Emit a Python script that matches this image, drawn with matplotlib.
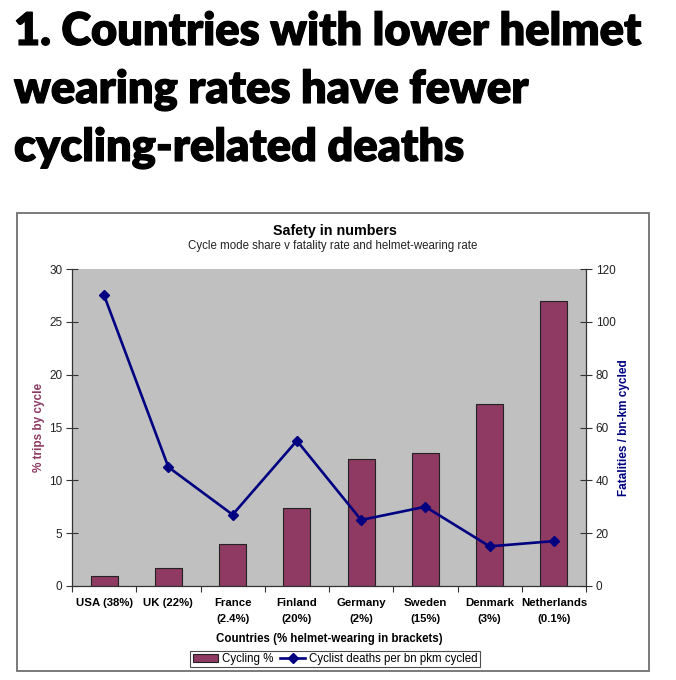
import numpy as np
import matplotlib.pyplot as plt
import matplotlib.patheffects as pe
from matplotlib.patches import Rectangle

# Data
countries = ["USA (38%)", "UK (22%)", "France\n(2.4%)", "Finland\n(20%)",
             "Germany\n(2%)", "Sweden\n(15%)", "Denmark\n(3%)", "Netherlands\n(0.1%)"]
cycling_pct = [0.9, 1.7, 4.0, 7.4, 12.0, 12.6, 17.2, 27.0]
deaths_per_bn_km = [110, 45, 27, 55, 25, 30, 15, 17]

bar_color = "#8E3A62"
line_color = "#000080"
plot_bg = "#C0C0C0"

plt.rcParams['font.family'] = ['Liberation Sans', 'DejaVu Sans']

fig = plt.figure(figsize=(6.76, 6.80), dpi=100)
W, H = 676, 680

# Headline, one line at a time (thin stroke to get a heavier weight)
headline = ["1. Countries with lower helmet", "wearing rates have fewer",
            "cycling-related deaths"]
for line_txt, base_y in zip(headline, [45, 103, 161]):
    fig.text(14 / W, 1 - base_y / H, line_txt, family='Lato', fontweight='heavy',
             fontsize=32.5, va='baseline', ha='left', color='black',
             path_effects=[pe.withStroke(linewidth=0.8, foreground='black')])

# Chart frame
fig.patches.append(Rectangle((17 / W, 1 - 671 / H), (649 - 17) / W, (671 - 213) / H,
                             transform=fig.transFigure, fill=False,
                             edgecolor='#707070', linewidth=1.3))

fig.text(335 / W, 1 - 231 / H, "Safety in numbers", ha='center', va='center',
         fontsize=10.3, fontweight='bold')
fig.text(333 / W, 1 - 246 / H, "Cycle mode share v fatality rate and helmet-wearing rate",
         ha='center', va='center', fontsize=8.3, color='#222222')

ax = fig.add_axes([72 / W, 1 - 586 / H, (586 - 72) / W, (586 - 269) / H])
ax.set_facecolor(plot_bg)
x = np.arange(len(countries))
bars = ax.bar(x, cycling_pct, width=0.42, color=bar_color, edgecolor='#222222',
              linewidth=0.8, label="Cycling %")
ax.set_xlim(-0.5, len(countries) - 0.5)
ax.set_ylim(0, 30)
ax.set_yticks(range(0, 31, 5))
ax.set_xticks(np.arange(-0.5, len(countries), 1.0))
ax.set_xticklabels([])
ax.set_xticks(x, minor=True)
ax.set_xticklabels(countries, minor=True, fontweight='bold', fontsize=8.2, linespacing=1.75,
                   va='top')
ax.tick_params(axis='x', which='major', direction='out', length=4, width=0.8, color='#333333')
ax.tick_params(axis='x', which='minor', length=0, pad=9)
ax.tick_params(axis='y', direction='inout', length=8, width=0.8, labelsize=8.5, pad=3,
               color='#333333', labelcolor='#222222')
for side in ['top', 'right']:
    ax.spines[side].set_visible(False)
for side in ['left', 'bottom']:
    ax.spines[side].set_color('#333333')
    ax.spines[side].set_linewidth(0.9)
ax.set_ylabel("% trips by cycle", color=bar_color, fontweight='bold', fontsize=8.5,
              labelpad=3)
ax.set_xlabel("Countries (% helmet-wearing in brackets)", fontweight='bold', fontsize=8.3,
              labelpad=6)

ax2 = ax.twinx()
line, = ax2.plot(x, deaths_per_bn_km, color=line_color, linewidth=1.9, marker='D',
                 markersize=5.5, label="Cyclist deaths per bn pkm cycled")
ax2.set_ylim(0, 120)
ax2.set_yticks(range(0, 121, 20))
ax2.tick_params(axis='y', direction='inout', length=8, width=0.8, labelsize=8.5, pad=3,
                color='#333333', labelcolor='#222222')
for side in ['top', 'left', 'bottom']:
    ax2.spines[side].set_visible(False)
ax2.spines['right'].set_color('#333333')
ax2.spines['right'].set_linewidth(0.9)
ax2.set_ylabel("Fatalities / bn-km cycled", color=line_color, fontweight='bold',
               fontsize=8.5, labelpad=2)

leg = fig.legend([bars, line], ["Cycling %", "Cyclist deaths per bn pkm cycled"],
                 loc='center', bbox_to_anchor=(335 / W, 1 - 659 / H), ncol=2,
                 fontsize=8.3, frameon=True, fancybox=False, edgecolor='#222222',
                 handlelength=2.2, handletextpad=0.3, columnspacing=0.6,
                 borderpad=0.2)
leg.get_frame().set_linewidth(0.8)

fig.savefig("out.png", dpi=100)
